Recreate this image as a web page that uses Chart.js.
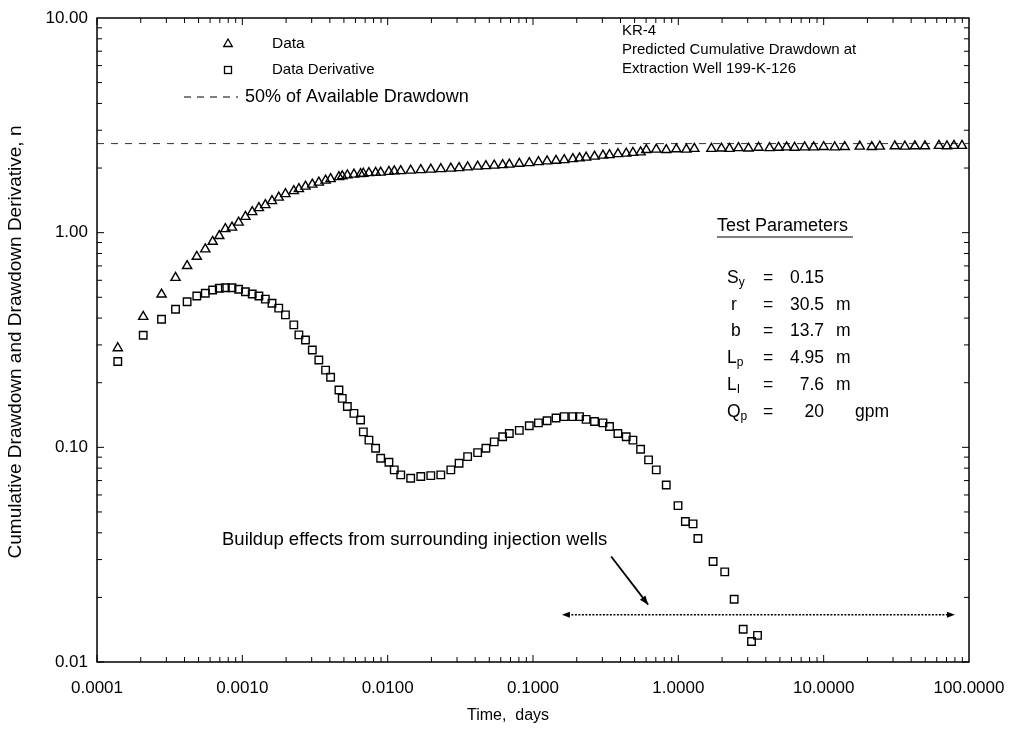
<!DOCTYPE html>
<html>
<head>
<meta charset="utf-8">
<script src="https://cdn.jsdelivr.net/npm/chart.js@4.4.0/dist/chart.umd.min.js"></script>
<style>
html, body { margin: 0; padding: 0; background: #fff; }
#wrap { width: 1011px; height: 732px; }
</style>
</head>
<body>
<div id="wrap"><canvas id="myChart" width="1011" height="732"></canvas></div>
<script>
// times (days) of the drawdown readings
var timeData = [
	0.000139, 0.000208, 0.000278, 0.000347, 0.000417, 0.000486, 0.000556, 0.000625, 0.000694, 0.000764,
	0.000849, 0.000943, 0.00105, 0.00117, 0.00130, 0.00144, 0.00160, 0.00178, 0.00198, 0.00226,
	0.00245, 0.00272, 0.00303, 0.00336, 0.00374, 0.00405, 0.00462, 0.00487, 0.00528, 0.00586,
	0.00651, 0.00680, 0.00743, 0.00826, 0.00895, 0.0102, 0.0111, 0.0123, 0.0144, 0.0169,
	0.0198, 0.0232, 0.0272, 0.0310, 0.0355, 0.0416, 0.0474, 0.0541, 0.0618, 0.0687,
	0.0805, 0.0943, 0.109, 0.125, 0.144, 0.164, 0.188, 0.209, 0.232, 0.265,
	0.303, 0.336, 0.384, 0.438, 0.487, 0.550,
	0.602, 0.705, 0.826, 0.969, 1.136, 1.289, 1.689, 1.980, 2.248, 2.593,
	3.039, 3.562, 4.243, 4.895, 5.556, 6.31, 7.40, 8.53, 10.0, 11.91,
	13.96, 17.72, 21.43, 24.33, 30.88, 36.20, 42.43, 49.74, 62.11, 70.5,
	78.8, 89.5
];
// cumulative drawdown (triangles)
var drawdown = [
	0.29, 0.406, 0.516, 0.617, 0.700, 0.773, 0.837, 0.908, 0.966, 1.04,
	1.057, 1.116, 1.187, 1.249, 1.303, 1.346, 1.405, 1.459, 1.515, 1.564,
	1.598, 1.641, 1.677, 1.713, 1.750, 1.779, 1.817, 1.833, 1.851, 1.866,
	1.877, 1.885, 1.897, 1.903, 1.907, 1.923, 1.932, 1.938, 1.949, 1.959,
	1.970, 1.980, 1.991, 2.002, 2.017, 2.034, 2.045, 2.056, 2.067, 2.078,
	2.097, 2.112, 2.135, 2.151, 2.165, 2.181, 2.204, 2.223, 2.240, 2.264,
	2.289, 2.301, 2.326, 2.338, 2.356, 2.371,
	2.43, 2.44, 2.43, 2.45, 2.44, 2.46, 2.46, 2.47, 2.46, 2.48,
	2.47, 2.49, 2.48, 2.49, 2.50, 2.49, 2.50, 2.50, 2.51, 2.50,
	2.51, 2.52, 2.51, 2.52, 2.53, 2.52, 2.53, 2.53, 2.54, 2.53,
	2.54, 2.54
];
// times of the derivative points (squares)
var timeDeriv = [
	0.000139, 0.000208, 0.000278, 0.000347, 0.000417, 0.000486, 0.000556, 0.000625, 0.000694, 0.000764,
	0.000849, 0.000943, 0.00105, 0.00117, 0.00130, 0.00144, 0.00160, 0.00178, 0.00198, 0.00226,
	0.00245, 0.00272, 0.00303, 0.00336, 0.00374, 0.00405, 0.00462, 0.00487, 0.00528, 0.00586,
	0.00651, 0.00680, 0.00743, 0.00826, 0.00895, 0.0102, 0.0111, 0.0123, 0.0144, 0.0169,
	0.0198, 0.0232, 0.0272, 0.0310, 0.0355, 0.0416, 0.0474, 0.0541, 0.0618, 0.0687,
	0.0805, 0.0943, 0.109, 0.125, 0.144, 0.164, 0.188, 0.209, 0.232, 0.265,
	0.303, 0.336, 0.384, 0.438, 0.487, 0.550,
	0.624, 0.705, 0.826, 0.995, 1.118, 1.263, 1.363, 1.735, 2.086, 2.422,
	2.794, 3.188, 3.506
];
var derivative = [
	0.251, 0.333, 0.395, 0.440, 0.477, 0.507, 0.522, 0.541, 0.551, 0.554,
	0.554, 0.545, 0.531, 0.518, 0.507, 0.490, 0.469, 0.445, 0.414, 0.372,
	0.334, 0.316, 0.284, 0.255, 0.229, 0.212, 0.185, 0.169, 0.155, 0.144,
	0.134, 0.118, 0.108, 0.099, 0.0889, 0.0852, 0.0785, 0.0744, 0.0718, 0.0731,
	0.0738, 0.0744, 0.0785, 0.0843, 0.0905, 0.0945, 0.0990, 0.106, 0.112, 0.116,
	0.120, 0.126, 0.130, 0.133, 0.137, 0.139, 0.139, 0.139, 0.135, 0.132,
	0.130, 0.125, 0.116, 0.112, 0.108, 0.098,
	0.0874, 0.0785, 0.0668, 0.0535, 0.0451, 0.0440, 0.0376, 0.0294, 0.0263, 0.0196,
	0.0142, 0.01245, 0.0133
];
var halfDrawdown = 2.6;   // 50% of available drawdown
var xTicks = [0.0001, 0.001, 0.01, 0.1, 1, 10, 100];
var yTicks = [0.01, 0.1, 1, 10];
// buildup annotation: horizontal double arrow and pointer (data units)
var buildupSpan = [0.158, 80];
var buildupLevel = 0.0166;
var pointerFrom = [0.345, 0.031];
var pointerTo = [0.62, 0.0185];

var FONT = "'Liberation Sans', Arial, sans-serif";

function xy(xs, ys) {
	var out = [];
	for (var i = 0; i < xs.length; i++) out.push({x: xs[i], y: ys[i]});
	return out;
}

function txt(ctx, s, x, y, size, align) {
	ctx.font = size + "px " + FONT;
	ctx.textAlign = align || "left";
	ctx.textBaseline = "middle";
	ctx.fillText(s, x, y);
}

function arrowHead(ctx, x1, y1, x2, y2, len, wid) {
	var ang = Math.atan2(y2 - y1, x2 - x1);
	ctx.beginPath();
	ctx.moveTo(x2, y2);
	ctx.lineTo(x2 - len * Math.cos(ang) + wid * Math.sin(ang), y2 - len * Math.sin(ang) - wid * Math.cos(ang));
	ctx.lineTo(x2 - len * Math.cos(ang) - wid * Math.sin(ang), y2 - len * Math.sin(ang) + wid * Math.cos(ang));
	ctx.closePath();
	ctx.fill();
}

var framePlugin = {
	id: "frame",
	afterDraw: function (chart) {
		var ctx = chart.ctx, a = chart.chartArea, xs = chart.scales.x, ys = chart.scales.y;
		ctx.save();
		ctx.strokeStyle = "#000";
		ctx.fillStyle = "#000";
		ctx.lineWidth = 1.5;
		ctx.strokeRect(a.left, a.top, a.right - a.left, a.bottom - a.top);

		// inward ticks on all four sides
		ctx.lineWidth = 1;
		ctx.beginPath();
		var d, k, p, len;
		for (d = 0; d < xTicks.length - 1; d++) {
			for (k = 1; k < 10; k++) {
				p = xs.getPixelForValue(k * xTicks[d]);
				len = k == 1 ? 7 : 5;
				ctx.moveTo(p, a.bottom); ctx.lineTo(p, a.bottom - len);
				ctx.moveTo(p, a.top); ctx.lineTo(p, a.top + len);
			}
		}
		for (d = 0; d < yTicks.length - 1; d++) {
			for (k = 1; k < 10; k++) {
				p = ys.getPixelForValue(k * yTicks[d]);
				len = k == 1 ? 7 : 5;
				ctx.moveTo(a.left, p); ctx.lineTo(a.left + len, p);
				ctx.moveTo(a.right, p); ctx.lineTo(a.right - len, p);
			}
		}
		ctx.stroke();

		// axis titles
		txt(ctx, "Time,  days", 508, 716, 16, "center");
		ctx.save();
		ctx.translate(16, 342);
		ctx.rotate(-Math.PI / 2);
		txt(ctx, "Cumulative Drawdown and Drawdown Derivative, n", 0, 0, 19, "center");
		ctx.restore();

		// legend
		ctx.lineWidth = 1.3;
		ctx.beginPath();
		ctx.moveTo(228, 39); ctx.lineTo(232.3, 46.5); ctx.lineTo(223.7, 46.5); ctx.closePath();
		ctx.stroke();
		ctx.strokeRect(224.5, 66.5, 7, 7);
		txt(ctx, "Data", 272, 44, 15.5);
		txt(ctx, "Data Derivative", 272, 70, 15);
		ctx.save();
		ctx.lineWidth = 1;
		ctx.setLineDash([7, 6]);
		ctx.beginPath(); ctx.moveTo(184, 97); ctx.lineTo(238, 97); ctx.stroke();
		ctx.restore();
		txt(ctx, "50% of Available Drawdown", 245, 97, 18);

		// title block
		txt(ctx, "KR-4", 622, 31, 15);
		txt(ctx, "Predicted Cumulative Drawdown at", 622, 50, 15);
		txt(ctx, "Extraction Well 199-K-126", 622, 69, 15);

		// test parameters
		txt(ctx, "Test Parameters", 717, 226, 18);
		ctx.lineWidth = 1.2;
		ctx.beginPath(); ctx.moveTo(717, 237); ctx.lineTo(853, 237); ctx.stroke();
		var rows = [
			["S", "y", "0.15", "", 278],
			["r", "", "30.5", "m", 305],
			["b", "", "13.7", "m", 331],
			["L", "p", "4.95", "m", 358],
			["L", "I", "7.6", "m", 385],
			["Q", "p", "20", "gpm", 412]
		];
		for (var r = 0; r < rows.length; r++) {
			var row = rows[r];
			var sx = row[1] ? 727 : 731;
			txt(ctx, row[0], sx, row[4], 17.5);
			if (row[1]) {
				ctx.font = "17.5px " + FONT;
				var w = ctx.measureText(row[0]).width;
				txt(ctx, row[1], sx + w, row[4] + 5, 12);
			}
			txt(ctx, "=", 768, row[4], 17.5, "center");
			txt(ctx, row[2], 824, row[4], 17.5, "right");
			txt(ctx, row[3], row[3] == "gpm" ? 855 : 836, row[4], 17.5);
		}

		// buildup annotation
		txt(ctx, "Buildup effects from surrounding injection wells", 222, 540, 18.5);
		var hx1 = xs.getPixelForValue(buildupSpan[0]);
		var hx2 = xs.getPixelForValue(buildupSpan[1]);
		var hy = ys.getPixelForValue(buildupLevel);
		ctx.save();
		ctx.lineWidth = 1.3;
		ctx.setLineDash([2, 1.5]);
		ctx.beginPath(); ctx.moveTo(hx1 + 6, hy); ctx.lineTo(hx2 - 6, hy); ctx.stroke();
		ctx.restore();
		arrowHead(ctx, hx2, hy, hx1, hy, 8, 3);
		arrowHead(ctx, hx1, hy, hx2, hy, 8, 3);
		var px1 = xs.getPixelForValue(pointerFrom[0]), py1 = ys.getPixelForValue(pointerFrom[1]);
		var px2 = xs.getPixelForValue(pointerTo[0]), py2 = ys.getPixelForValue(pointerTo[1]);
		ctx.lineWidth = 1.8;
		ctx.beginPath(); ctx.moveTo(px1, py1); ctx.lineTo(px2, py2); ctx.stroke();
		arrowHead(ctx, px1, py1, px2, py2, 9, 3.5);
		ctx.restore();
	}
};

new Chart("myChart", {
	type: "scatter",
	data: {
		datasets: [{
			label: "Data",
			data: xy(timeData, drawdown),
			pointStyle: "triangle",
			pointRadius: 5.3,
			borderColor: "#000",
			backgroundColor: "rgba(0,0,0,0)",
			borderWidth: 1.4
		}, {
			label: "Data Derivative",
			data: xy(timeDeriv, derivative),
			pointStyle: "rect",
			pointRadius: 5.3,
			borderColor: "#000",
			backgroundColor: "rgba(0,0,0,0)",
			borderWidth: 1.4
		}, {
			label: "50% of Available Drawdown",
			type: "line",
			data: [{x: xTicks[0], y: halfDrawdown}, {x: xTicks[xTicks.length - 1], y: halfDrawdown}],
			borderColor: "#333",
			borderWidth: 1,
			borderDash: [7, 7],
			pointRadius: 0
		}]
	},
	options: {
		responsive: false,
		animation: false,
		layout: { padding: { top: 18, right: 42, left: 0, bottom: 0 } },
		plugins: { legend: { display: false }, tooltip: { enabled: false } },
		scales: {
			x: {
				type: "logarithmic",
				min: xTicks[0],
				max: xTicks[xTicks.length - 1],
				afterBuildTicks: function (s) { s.ticks = xTicks.map(function (v) { return {value: v}; }); },
				afterFit: function (s) { s.height = 70; s.paddingLeft = 0; s.paddingRight = 0; },
				grid: { display: false, drawTicks: false },
				border: { display: false },
				ticks: {
					callback: function (v) { return Number(v).toFixed(4); },
					font: { family: FONT, size: 17 },
					color: "#000",
					padding: 16,
					maxRotation: 0,
					autoSkip: false
				}
			},
			y: {
				type: "logarithmic",
				min: yTicks[0],
				max: yTicks[yTicks.length - 1],
				afterBuildTicks: function (s) { s.ticks = yTicks.map(function (v) { return {value: v}; }); },
				afterFit: function (s) { s.width = 97; s.paddingTop = 0; s.paddingBottom = 0; },
				grid: { display: false, drawTicks: false },
				border: { display: false },
				ticks: {
					callback: function (v) { return Number(v).toFixed(2); },
					font: { family: FONT, size: 17 },
					color: "#000",
					padding: 9,
					autoSkip: false
				}
			}
		}
	},
	plugins: [framePlugin]
});
</script>
</body>
</html>
